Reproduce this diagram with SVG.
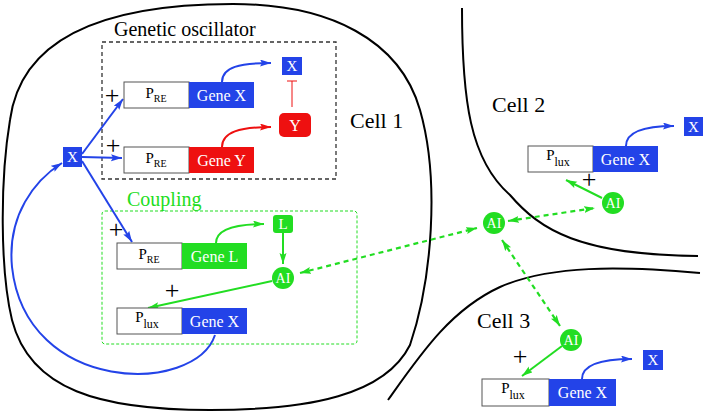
<svg xmlns="http://www.w3.org/2000/svg" width="705" height="413" viewBox="0 0 705 413">
<defs>
<style>
text{font-family:"Liberation Serif","Times New Roman",serif;}
.cell{fill:none;stroke:#000;stroke-width:2;}
.lbl{font-size:22px;fill:#000;}
.gt{font-size:16px;fill:#fff;text-anchor:middle;}
.pt{font-size:15px;fill:#000;text-anchor:middle;}
.wt{fill:#fff;text-anchor:middle;}
.plus{font-size:26px;fill:#000;text-anchor:middle;}
.prom{fill:#fff;stroke:#555;stroke-width:1;}
.bl{fill:#2343e8;}
.gr{fill:#22dd22;}
.rd{fill:#ee1010;}
.ab{fill:none;stroke:#2343e8;stroke-width:2;marker-end:url(#hb);}
.ag{fill:none;stroke:#22dd22;stroke-width:2;marker-end:url(#hg);}
.ar{fill:none;stroke:#ee1010;stroke-width:2;marker-end:url(#hr);}
.ad{fill:none;stroke:#22dd22;stroke-width:2.2;stroke-dasharray:5,4;marker-start:url(#hg);marker-end:url(#hg);}
</style>
<marker id="hb" markerUnits="userSpaceOnUse" markerWidth="11" markerHeight="8" refX="11" refY="3.5" orient="auto-start-reverse"><path d="M0,0 L11,3.5 L0,7 L2,3.5 z" fill="#2343e8"/></marker>
<marker id="hg" markerUnits="userSpaceOnUse" markerWidth="11" markerHeight="8" refX="11" refY="3.5" orient="auto-start-reverse"><path d="M0,0 L11,3.5 L0,7 L2,3.5 z" fill="#22dd22"/></marker>
<marker id="hr" markerUnits="userSpaceOnUse" markerWidth="11" markerHeight="8" refX="11" refY="3.5" orient="auto-start-reverse"><path d="M0,0 L11,3.5 L0,7 L2,3.5 z" fill="#ee1010"/></marker>
</defs>
<rect width="705" height="413" fill="#fff"/>

<g id="cells">
<path class="cell" d="M233,4 C330,4 400,40 420,110 C440,180 432,280 410,345 C385,395 310,410 210,410 C100,410 30,390 12,320 C0,270 0,180 10,120 C20,45 90,4 233,4 Z"/>
<path class="cell" d="M462,8 C462,100 470,160 510,195 C540,230 580,255 698,256"/>
<path class="cell" d="M388,400 C420,355 450,310 500,287 C550,265 620,266 700,273"/>
<text class="lbl" x="350" y="128">Cell 1</text>
<text class="lbl" x="492" y="112">Cell 2</text>
<text class="lbl" x="477" y="328">Cell 3</text>
</g>

<g id="oscillator-box">
<rect x="102" y="42" width="234" height="137" fill="none" stroke="#333" stroke-width="1.3" stroke-dasharray="4,3"/>
<text x="114" y="36" font-size="20" fill="#000">Genetic oscillator</text>
</g>
<g id="coupling-box">
<rect x="102" y="211" width="255" height="133" rx="3" fill="none" stroke="#22dd22" stroke-width="1" stroke-dasharray="3,2"/>
<text x="127" y="206" font-size="20" fill="#22dd22">Coupling</text>
</g>

<g id="connectors">
<path class="ab" d="M82,154 L123,99"/>
<path class="ab" d="M82,157 L122,158"/>
<path class="ab" d="M82,161 L132,242"/>
<path class="ab" d="M222,82 C222,67 240,63 271,63"/>
<path class="ar" d="M222,147 C222,132 240,127 271,127"/>
<path d="M292,107 L292,81 M287,81 L297,81" fill="none" stroke="#ee1010" stroke-width="1"/>
<path class="ag" d="M216,243 C216,229 235,224 264,224"/>
<path class="ag" d="M283,233 L283,264"/>
<path class="ag" d="M272,281 L148,308"/>
<path class="ab" d="M215,335 C195,395 26,395 12,267 C7,215 35,180 62,163"/>
<path class="ad" d="M300,273 L477,228"/>
<path class="ad" d="M508,221 L595,208"/>
<path class="ad" d="M502,240 L560,326"/>
<path class="ag" d="M602,198 L566,180"/>
<path class="ag" d="M562,346 L522,376"/>
<path class="ab" d="M626,146 C626,132 645,126 674,126"/>
<path class="ab" d="M582,379 C582,365 600,359 632,359"/>
<text class="plus" x="112" y="104">+</text>
<text class="plus" x="113" y="154">+</text>
<text class="plus" x="116" y="238">+</text>
<text class="plus" x="172" y="299">+</text>
<text class="plus" x="589" y="188">+</text>
<text class="plus" x="520" y="365">+</text>
</g>

<g id="x-input">
<rect class="bl" x="63" y="147" width="19" height="20"/>
<text class="wt" x="72.5" y="162" font-size="15">X</text>
</g>

<g id="gene-x-osc">
<rect class="prom" x="124" y="82" width="65" height="26"/>
<text class="pt" x="156" y="98">P<tspan font-size="10" dy="4">RE</tspan></text>
<rect class="bl" x="189" y="82" width="65" height="26"/>
<text class="gt" x="221.5" y="101">Gene X</text>
</g>
<g id="gene-y">
<rect class="prom" x="124" y="147" width="65" height="26"/>
<text class="pt" x="156" y="163">P<tspan font-size="10" dy="4">RE</tspan></text>
<rect class="rd" x="189" y="147" width="65" height="26"/>
<text class="gt" x="221.5" y="166">Gene Y</text>
</g>
<g id="x-osc">
<rect class="bl" x="282" y="57" width="20" height="18"/>
<text class="wt" x="292" y="71" font-size="15">X</text>
</g>
<g id="y-protein">
<rect class="rd" x="279" y="113" width="32" height="24" rx="5"/>
<text class="wt" x="295" y="131" font-size="16">Y</text>
</g>

<g id="gene-l">
<rect class="prom" x="117" y="243" width="65" height="26"/>
<text class="pt" x="149" y="259">P<tspan font-size="10" dy="4">RE</tspan></text>
<rect class="gr" x="182" y="243" width="65" height="26"/>
<text class="gt" x="214.5" y="262">Gene L</text>
</g>
<g id="l-protein">
<rect class="gr" x="273" y="215" width="20" height="18" rx="3"/>
<text class="wt" x="283" y="229" font-size="15">L</text>
</g>
<g id="ai-cell1">
<circle class="gr" cx="283" cy="278" r="11"/>
<text class="wt" x="283" y="283" font-size="14">AI</text>
</g>
<g id="gene-x-lux1">
<rect class="prom" x="117" y="308" width="65" height="26"/>
<text class="pt" x="147" y="322">P<tspan font-size="12" dy="6">lux</tspan></text>
<rect class="bl" x="182" y="308" width="65" height="26"/>
<text class="gt" x="214.5" y="327">Gene X</text>
</g>

<g id="ai-center">
<circle class="gr" cx="494" cy="223" r="11"/>
<text class="wt" x="494" y="228" font-size="14">AI</text>
</g>

<g id="ai-cell2">
<circle class="gr" cx="613" cy="203" r="11"/>
<text class="wt" x="613" y="208" font-size="14">AI</text>
</g>
<g id="gene-x-cell2">
<rect class="prom" x="528" y="146" width="65" height="26"/>
<text class="pt" x="558" y="160">P<tspan font-size="12" dy="6">lux</tspan></text>
<rect class="bl" x="593" y="146" width="65" height="26"/>
<text class="gt" x="625.5" y="165">Gene X</text>
</g>
<g id="x-cell2">
<rect class="bl" x="684" y="117" width="19" height="19"/>
<text class="wt" x="693.5" y="131.5" font-size="15">X</text>
</g>

<g id="ai-cell3">
<circle class="gr" cx="571" cy="340" r="11"/>
<text class="wt" x="571" y="345" font-size="14">AI</text>
</g>
<g id="gene-x-cell3">
<rect class="prom" x="482" y="379" width="67" height="27"/>
<text class="pt" x="513" y="393">P<tspan font-size="12" dy="6">lux</tspan></text>
<rect class="bl" x="549" y="379" width="67" height="27"/>
<text class="gt" x="582.5" y="398">Gene X</text>
</g>
<g id="x-cell3">
<rect class="bl" x="643" y="350" width="20" height="20"/>
<text class="wt" x="653" y="365" font-size="15">X</text>
</g>
</svg>
